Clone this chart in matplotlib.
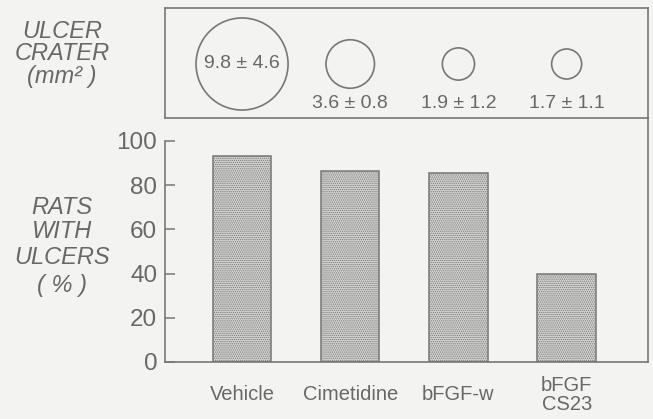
import matplotlib
matplotlib.use("Agg")
import matplotlib.pyplot as plt
from matplotlib.patches import Ellipse

# treatment groups, % of rats with ulcers, and ulcer crater area (mm^2, mean ± sd)
groups = ["Vehicle", "Cimetidine", "bFGF-w", "bFGF\nCS23"]
pct_ulcers = [93, 86.5, 85.5, 40]
crater_mean = [9.8, 3.6, 1.9, 1.7]
crater_sd = [4.6, 0.8, 1.2, 1.1]

W, H = 653, 419
INK = "#686868"
LINE = "#777777"
BG = "#f3f3f2"
plt.rcParams["font.family"] = ["Liberation Sans", "DejaVu Sans"]
plt.rcParams["hatch.linewidth"] = 0.6
plt.rcParams["hatch.color"] = "#a8a8a8"

fig = plt.figure(figsize=(W / 100, H / 100), dpi=100, facecolor=BG)


def px_axes(left, top, right, bottom):
    return fig.add_axes([left / W, 1 - bottom / H, (right - left) / W, (bottom - top) / H])


xlim = (-0.712, 3.752)
xs = list(range(len(groups)))

# ---- bar panel ----
ax = px_axes(165, 118, 648, 362)
ax.set_facecolor(BG)
bars = ax.bar(xs, pct_ulcers, width=0.54, color="#d2d2d0", edgecolor=LINE, linewidth=1.1,
              hatch="........", zorder=2)
ax.set_xlim(*xlim)
ax.set_ylim(0, 110.4)
ax.set_yticks([0, 20, 40, 60, 80, 100])
ax.tick_params(axis="y", direction="in", length=7.5, width=1.1, color=LINE,
               labelsize=17.5, labelcolor=INK, pad=5.5)
ax.tick_params(axis="x", length=0, labelbottom=False)
for s in ("left", "bottom", "right"):
    ax.spines[s].set_color(LINE)
    ax.spines[s].set_linewidth(1.2)
ax.spines["left"].set_bounds(0, 100)
ax.spines["top"].set_visible(False)

for x, g in zip(xs, groups):
    ax.text(x, -14.8, g, ha="center", va="center", fontsize=14.5, color=INK,
            linespacing=1.0, transform=ax.transData, clip_on=False)

# ---- crater size panel ----
top = px_axes(165, 8, 648, 118)
top.set_facecolor(BG)
top.set_xlim(*xlim)
top.set_ylim(0, 110)
top.set_xticks([])
top.set_yticks([])
for s in top.spines.values():
    s.set_color(LINE)
    s.set_linewidth(1.2)

px_per_x = (648 - 165) / (xlim[1] - xlim[0])
for x, m, sd in zip(xs, crater_mean, crater_sd):
    d = 30 * (m / 1.7) ** 0.64
    top.add_patch(Ellipse((x, 54), d / px_per_x, d, fill=False, edgecolor=LINE, linewidth=1.2))
    label = f"{m} ± {sd}"
    if d > 60:
        top.text(x, 55, label, ha="center", va="center", fontsize=14, color=INK)
    else:
        top.text(x, 15, label, ha="center", va="center", fontsize=14, color=INK)

# ---- row labels on the left ----
for y, line in zip([31, 53, 77], ["ULCER", "CRATER", "(mm² )"]):
    fig.text(62 / W, 1 - y / H, line, ha="center", va="center", fontsize=17,
             style="italic", color=INK)
for y, line in zip([207, 231, 257, 285], ["RATS", "WITH", "ULCERS", "( % )"]):
    fig.text(62 / W, 1 - y / H, line, ha="center", va="center", fontsize=17,
             style="italic", color=INK)

fig.savefig("out.png", dpi=100, facecolor=BG)
